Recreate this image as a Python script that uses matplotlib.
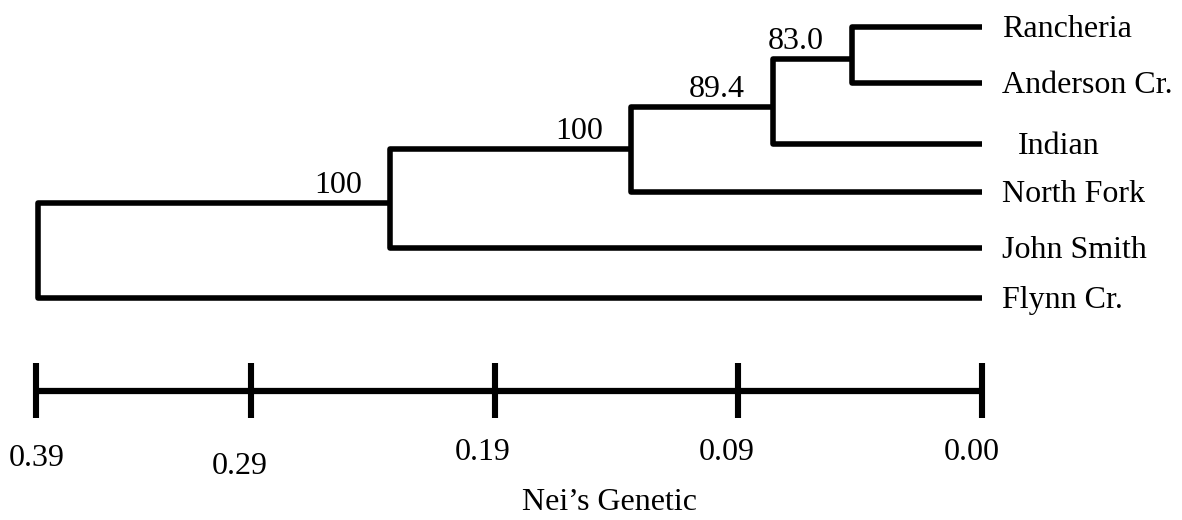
import numpy as np
import matplotlib.pyplot as plt

plt.rcParams["font.family"] = ["Liberation Serif", "DejaVu Serif"]
plt.rcParams["font.size"] = 23

# leaves, top to bottom
leaves = ["Rancheria", "Anderson Cr.", "Indian", "North Fork", "John Smith", "Flynn Cr."]

# UPGMA merges (ids 0-5 are leaves, 6+ are clusters), Nei's distance, bootstrap
merge_a = [0, 6, 7, 8, 9]
merge_b = [1, 2, 3, 4, 5]
merge_dist = [0.048, 0.077, 0.134, 0.233, 0.389]
support = ["83.0", "89.4", "100", "100", ""]

scale_vals = [0.39, 0.29, 0.19, 0.09, 0.00]
scale_labels = ["0.39", "0.29", "0.19", "0.09", "0.00"]

# layout (pixel rows of the original figure)
leaf_rows = [27, 83, 144, 192, 248, 298]
node_rows = [59, 107, 149, 203, 250]

# the printed scale bar is not evenly spaced, so use a piecewise scale
sv = np.array([0.0, 0.09, 0.19, 0.29, 0.39])
su = np.array([0.0, 244.0, 487.0, 731.0, 946.0])
lo = su[1] / sv[1]
hi = (su[-1] - su[-2]) / (sv[-1] - sv[-2])


def fwd(d):
    d = np.asarray(d, dtype=float)
    out = np.interp(d, sv, su)
    out = np.where(d < sv[0], d * lo, out)
    out = np.where(d > sv[-1], su[-1] + (d - sv[-1]) * hi, out)
    return out


def inv(u):
    u = np.asarray(u, dtype=float)
    out = np.interp(u, su, sv)
    out = np.where(u < su[0], u / lo, out)
    out = np.where(u > su[-1], sv[-1] + (u - su[-1]) / hi, out)
    return out


fig = plt.figure(figsize=(11.82, 5.2), dpi=100)
ax = fig.add_axes([0, 0, 1, 1])
ax.set_xscale("function", functions=(fwd, inv))
ax.set_xlim(float(inv(982)), float(inv(982 - 1182)))
ax.set_ylim(520, 0)
ax.axis("off")

lw = 4.0
pos = {i: (0.0, leaf_rows[i]) for i in range(len(leaves))}
for k, (a, b, d, s) in enumerate(zip(merge_a, merge_b, merge_dist, support)):
    xa, ya = pos[a]
    xb, yb = pos[b]
    ax.plot([xa, d, d, xb], [ya, ya, yb, yb], color="black", lw=lw,
            solid_joinstyle="round", solid_capstyle="butt")
    ny = node_rows[k]
    pos[len(leaves) + k] = (d, ny)
    if s:
        ax.annotate(s, (d, ny), xytext=(-28, 10), textcoords="offset pixels",
                    ha="right", va="baseline")

# leaf names
nudge = {"Indian": 16}
for name, row in zip(leaves, leaf_rows):
    ax.annotate(name, (0.0, row), xytext=(20 + nudge.get(name, 0), -10),
                textcoords="offset pixels", ha="left", va="baseline")

# scale bar
bar_y = 391
ax.plot([scale_vals[0], scale_vals[-1]], [bar_y, bar_y], color="black", lw=4.5,
        solid_capstyle="butt")
ax.vlines(scale_vals, 363, 418, color="black", lw=4.4)
shift_x = [1, -11, -12, -11, -10]
drop_y = [7, 14, 0, 0, 0]
for v, lab, dx, dy in zip(scale_vals, scale_labels, shift_x, drop_y):
    ax.annotate(lab, (v, 452), xytext=(dx, -dy), textcoords="offset pixels",
                ha="center", va="center")

fig.text(610 / 1182, 1 - 503 / 520, "Nei\u2019s Genetic", ha="center", va="center")

fig.savefig("out.png", dpi=100)
